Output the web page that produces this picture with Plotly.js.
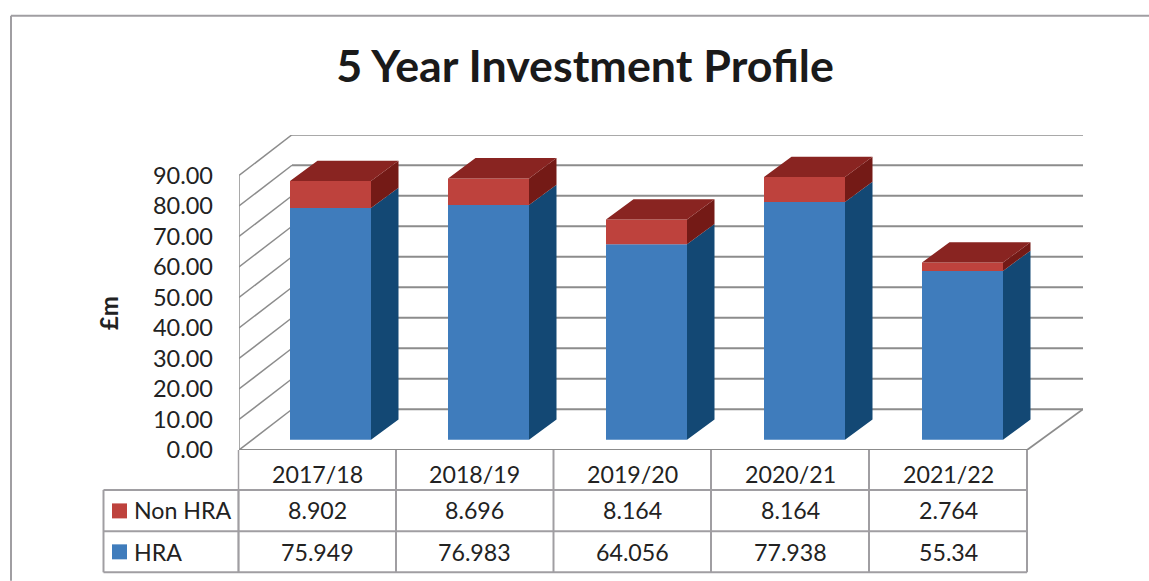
<!DOCTYPE html>
<html>
<head>
<meta charset="utf-8">
<script src="https://cdn.plot.ly/plotly-3.0.1.min.js"></script>
<style>html,body{margin:0;padding:0;background:#fff}#chart{width:1149px;height:581px}</style>
</head>
<body>
<div id="chart"></div>
<script>
const categories = ["2017/18", "2018/19", "2019/20", "2020/21", "2021/22"];
const nonHra = [8.902, 8.696, 8.164, 8.164, 2.764];
const hra = [75.949, 76.983, 64.056, 77.938, 55.34];
const yTicks = [0, 10, 20, 30, 40, 50, 60, 70, 80, 90];
const seriesNames = ["Non HRA", "HRA"];

// layout geometry (pixels)
const W = 1149, H = 581;
const L = 239, R = 1083, T = 134.5, B = 450;
const pxPerCat = 158, pxPerUnit = 3.055;
const xMax = (R - L) / pxPerCat, yMax = (B - T) / pxPerUnit;
const px = x => (x - L) / (R - L);
const py = y => (B - y) / (B - T);
const ux = p => p / pxPerCat, uy = p => p / pxPerUnit;

// 3D projection offsets (axis units)
const wallDx = ux(53), wallDy = uy(40.8);
const floorRight = ux(1027 - L);
const barW = ux(81), barDx = ux(27.5), barDy = uy(20.3), barBase = uy(10.3), firstCentre = ux(91.5);
const centres = categories.map((c, i) => firstCentre + i);

const gridColor = "#8c8c8c", tableColor = "#a09ea2", textColor = "#222222";
const FONT = "Lato, 'Open Sans', sans-serif";
const shapes = [];
const line = (x0, y0, x1, y1, color, width, ref) => shapes.push({
  type: "line", layer: "below", xref: ref, yref: ref, x0, y0, x1, y1,
  line: {color, width}
});
// walls and floor
yTicks.forEach(v => {
  line(0, v, wallDx, v + wallDy, gridColor, 1.5, "x");
  line(wallDx, v + wallDy, xMax, v + wallDy, gridColor, 2, "x");
});
line(0, 0, 0, yTicks[yTicks.length - 1], gridColor, 1.5, "x");
line(0, 0, floorRight, 0, gridColor, 2, "x");
line(floorRight, 0, xMax, wallDy, gridColor, 1.8, "x");

// outer chart border
line(px(11), py(15), px(W), py(15), tableColor, 2, "paper");
line(px(11), py(15), px(11), py(H), tableColor, 2, "paper");

// data table grid
const colX = [238.5, 396, 553.5, 711, 869, 1027];
const rowY = [490, 531.5, 572.5];
rowY.forEach(y => line(px(103.5), py(y), px(colX[5]), py(y), tableColor, 2, "paper"));
colX.forEach((x, i) => line(px(x), py(B), px(x), py(rowY[2]), tableColor, i === 0 ? 1.5 : 2, "paper"));
line(px(238.5), py(490), px(238.5), py(rowY[2]), tableColor, 2, "paper");
line(px(103.5), py(490), px(103.5), py(rowY[2]), tableColor, 2, "paper");

// legend keys
const frontBlue = "#3f7cbc", frontRed = "#be423d";
[[503.5, frontRed], [544.5, frontBlue]].forEach(([y, c]) => shapes.push({
  type: "rect", xref: "paper", yref: "paper", layer: "below",
  x0: px(112), x1: px(127), y0: py(y), y1: py(y + 15), fillcolor: c, line: {width: 0}
}));

const annotations = [];
const note = (x, y, text, anchor, size, extra) => annotations.push(Object.assign({
  xref: "paper", yref: "paper", x: px(x), y: py(y), text, showarrow: false,
  xanchor: anchor, yanchor: "middle", font: {family: FONT, size, color: textColor}
}, extra || {}));
const tableSize = 23.2;
categories.forEach((c, i) => {
  const cx = (colX[i] + colX[i + 1]) / 2;
  note(cx, 474, c, "center", tableSize);
  note(cx, 510.5, String(nonHra[i]), "center", tableSize);
  note(cx, 552.5, String(hra[i]), "center", tableSize);
});
note(132, 510.5, seriesNames[0], "left", tableSize);
note(132, 552.5, seriesNames[1], "left", tableSize);
note(108, 313, "<b>£m</b>", "center", 24, {textangle: -90});

// polygons for the side and top faces
function faces(lower, upper, top) {
  const xs = [], ys = [];
  centres.forEach((c, i) => {
    const xr = c + barW / 2, xl = c - barW / 2;
    const a = lower(i), b = upper(i);
    if (top) {
      xs.push(xl, xr, xr + barDx, xl + barDx, xl, null);
      ys.push(b, b, b + barDy, b + barDy, b, null);
    } else {
      xs.push(xr, xr + barDx, xr + barDx, xr, xr, null);
      ys.push(a, a + barDy, b + barDy, b, a, null);
    }
  });
  return {x: xs, y: ys};
}
const hraTop = i => barBase + hra[i];
const allTop = i => barBase + hra[i] + nonHra[i];
const poly = (f, color) => ({
  type: "scatter", mode: "lines", x: f.x, y: f.y, fill: "toself", fillcolor: color,
  line: {width: 0, color}, hoverinfo: "skip", showlegend: false
});

const data = [
  {type: "bar", name: seriesNames[1], x: centres, y: hra, base: categories.map(() => barBase),
   width: barW, marker: {color: frontBlue, line: {width: 0}}, customdata: categories, showlegend: false},
  {type: "bar", name: seriesNames[0], x: centres, y: nonHra, base: categories.map((c, i) => hraTop(i)),
   width: barW, marker: {color: frontRed, line: {width: 0}}, customdata: categories, showlegend: false},
  poly(faces(() => barBase, hraTop), "#134874"),
  poly(faces(hraTop, allTop), "#741a16"),
  poly(faces(allTop, allTop, true), "#892421")
];

const layout = {
  width: W, height: H, autosize: false,
  margin: {l: L, r: W - R, t: T, b: H - B, pad: 0},
  paper_bgcolor: "#fff", plot_bgcolor: "rgba(0,0,0,0)",
  barmode: "overlay", showlegend: false,
  title: {text: "<b>5 Year Investment Profile</b>", xref: "container", yref: "container",
          x: 585 / W, xanchor: "center", y: 1 - 66 / H, yanchor: "middle",
          font: {family: FONT, size: 44.8, color: "#1a1a1a"}},
  xaxis: {range: [0, xMax], showgrid: false, zeroline: false, showline: false,
          showticklabels: false, ticks: "", fixedrange: true},
  yaxis: {range: [0, yMax], tickmode: "array", tickvals: yTicks, tickformat: ".2f",
          showgrid: false, zeroline: false, showline: false, ticks: "", ticklabelstandoff: 25,
          tickfont: {family: FONT, size: 23.5, color: textColor}, fixedrange: true},
  shapes, annotations
};
Plotly.newPlot("chart", data, layout, {displayModeBar: false, staticPlot: true});
</script>
</body>
</html>
